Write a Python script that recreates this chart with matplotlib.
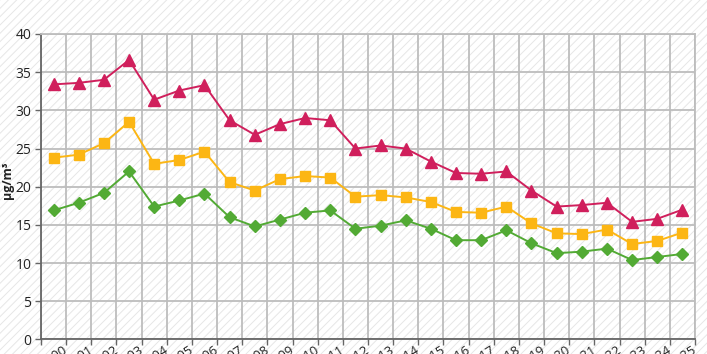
import matplotlib
matplotlib.use("Agg")
import matplotlib.pyplot as plt
import numpy as np
from matplotlib.patches import Rectangle

years = [str(y) for y in range(2000, 2026)]
red_vals = [33.4, 33.6, 34.0, 36.6, 31.4, 32.6, 33.3, 28.7, 26.8, 28.2, 29.0, 28.7, 25.0,
            25.4, 25.0, 23.3, 21.8, 21.7, 22.0, 19.5, 17.4, 17.6, 17.9, 15.4, 15.8, 17.0]
yellow_vals = [23.8, 24.2, 25.7, 28.5, 23.0, 23.5, 24.6, 20.6, 19.5, 21.0, 21.4, 21.2, 18.7,
               18.9, 18.6, 18.0, 16.7, 16.6, 17.4, 15.2, 13.9, 13.8, 14.4, 12.5, 12.9, 14.0]
green_vals = [16.9, 17.9, 19.2, 22.0, 17.4, 18.2, 19.1, 16.0, 14.8, 15.7, 16.6, 16.9, 14.5,
              14.9, 15.6, 14.5, 13.0, 13.0, 14.3, 12.6, 11.3, 11.5, 11.9, 10.4, 10.8, 11.2]
yticks = [0, 5, 10, 15, 20, 25, 30, 35, 40]

plt.rcParams["font.family"] = ["Open Sans", "DejaVu Sans"]
plt.rcParams["hatch.linewidth"] = 0.7
plt.rcParams["hatch.color"] = "#e6e6e6"

fig = plt.figure(figsize=(7.07, 3.54), dpi=100)
fig.patch.set_facecolor("white")
fig.patches.append(Rectangle((0, 0), 1, 1, transform=fig.transFigure, facecolor="white",
                             edgecolor="#e6e6e6", hatch="////", lw=0, zorder=-10))

ax = fig.add_axes([0.058, 0.041, 0.925, 0.863])
ax.patch.set_alpha(0)

x = np.arange(len(years))
ax.plot(x, red_vals, color="#d01f5c", lw=1.4, marker="^", ms=8.5, zorder=5, clip_on=False)
ax.plot(x, yellow_vals, color="#fcb614", lw=1.4, marker="s", ms=7.5, zorder=5, clip_on=False)
ax.plot(x, green_vals, color="#52aa34", lw=1.4, marker="D", ms=6, zorder=5, clip_on=False)

ax.set_xlim(-0.5, len(years) - 0.5)
ax.set_ylim(0, 40)
ax.set_yticks(yticks)
ax.set_xticks(x)
ax.set_xticklabels(years, rotation=32, ha="center", fontsize=9.5, color="#222222")
ax.set_xticks(np.arange(len(years) + 1) - 0.5, minor=True)
ax.tick_params(axis="x", which="major", length=0, pad=3)
ax.tick_params(axis="x", which="minor", length=4, color="#666666", width=1)
ax.tick_params(axis="y", length=4, color="#666666", width=1, labelsize=10,
               labelcolor="#222222", pad=3)

ax.grid(True, axis="y", color="#bdbdbd", lw=1.3)
ax.grid(True, axis="x", which="minor", color="#bdbdbd", lw=1.3)
ax.set_axisbelow(True)

for s in ["top", "right"]:
    ax.spines[s].set_color("#bdbdbd")
    ax.spines[s].set_linewidth(1.3)
for s in ["left", "bottom"]:
    ax.spines[s].set_color("#666666")
    ax.spines[s].set_linewidth(1.3)

ax.set_ylabel("µg/m³", fontsize=9, fontweight="bold", color="#222222")
ax.yaxis.set_label_coords(-0.041, 0.52)

fig.savefig("out.png", dpi=100)
